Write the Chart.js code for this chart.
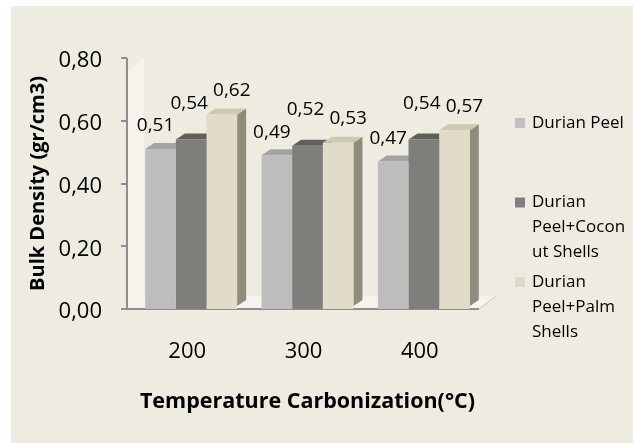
<!DOCTYPE html>
<html>
<head>
<meta charset="utf-8">
<script src="https://cdn.jsdelivr.net/npm/chart.js@4.4.1/dist/chart.umd.min.js"></script>
<style>
  html, body { margin: 0; padding: 0; background: #ffffff; }
  #wrap { position: relative; width: 633px; height: 443px; }
</style>
</head>
<body>
<div id="wrap"><canvas id="densityChart" width="633" height="443"></canvas></div>
<script>
// Data
const temperatures = ['200', '300', '400'];
const durianPeel = [0.51, 0.49, 0.47];
const peelCoconut = [0.54, 0.52, 0.54];
const peelPalm = [0.62, 0.53, 0.57];
const seriesNames = ['Durian Peel', 'Durian Peel+Coconut Shells', 'Durian Peel+Palm Shells'];
const legendLines = [['Durian Peel'], ['Durian', 'Peel+Cocon', 'ut Shells'], ['Durian', 'Peel+Palm', 'Shells']];
const yTicks = [0, 0.2, 0.4, 0.6, 0.8];

const FONT = "'Open Sans', 'Noto Sans', sans-serif";
const comma = v => v.toFixed(2).replace('.', ',');

// colours of the fake 3D faces, one entry per series
const faces = [
    { front: '#bdbdbd', top: '#a4a4a4', side: '#8f8f8f', legend: '#c0c0c0' },
    { front: '#7e7f7b', top: '#5f605c', side: '#54554f', legend: '#808080' },
    { front: '#e0dcc7', top: '#cdc9b2', side: '#8e8c7b', legend: '#dedac5' }
];
const depth = { dx: 9, dy: 6 };
const floorDepth = { dx: 17, dy: 13 };
// label offsets per series (Excel puts them a bit off-centre)
const labelShift = [{ dx: -5, dy: -23 }, { dx: -2, dy: -36 }, { dx: 10, dy: -24 }];

const backdrop = {
    id: 'backdrop',
    beforeDraw(chart) {
        const c = chart.ctx;
        c.save();
        c.fillStyle = '#ffffff';
        c.fillRect(0, 0, chart.width, chart.height);
        c.fillStyle = '#eeebe0';
        c.fillRect(11, 6, chart.width - 11, chart.height - 6);
        c.restore();
    }
};

const threeD = {
    id: 'threeD',
    beforeDatasetsDraw(chart) {
        const c = chart.ctx;
        const area = chart.chartArea;
        const yScale = chart.scales.y;
        const axisX = area.left - 6;
        const base = yScale.getPixelForValue(0);
        const top = yScale.getPixelForValue(0.8);
        c.save();

        // left wall
        c.fillStyle = 'rgba(255,255,255,0.4)';
        c.beginPath();
        c.moveTo(axisX, top + floorDepth.dy);
        c.lineTo(axisX + floorDepth.dx, top);
        c.lineTo(axisX + floorDepth.dx, base - floorDepth.dy);
        c.lineTo(axisX, base);
        c.closePath();
        c.fill();

        // floor
        c.fillStyle = '#f4f3ee';
        c.beginPath();
        c.moveTo(axisX, base);
        c.lineTo(area.right - 3, base);
        c.lineTo(area.right - 3 + floorDepth.dx, base - floorDepth.dy);
        c.lineTo(axisX + floorDepth.dx, base - floorDepth.dy);
        c.closePath();
        c.fill();
        c.strokeStyle = '#c9c8c0';
        c.lineWidth = 1;
        c.beginPath();
        c.moveTo(area.right - 3, base);
        c.lineTo(area.right - 3 + floorDepth.dx, base - floorDepth.dy);
        c.stroke();

        // y axis line and ticks
        c.strokeStyle = '#8e8e8e';
        c.lineWidth = 2;
        c.beginPath();
        c.moveTo(axisX, top);
        c.lineTo(axisX, base);
        c.lineTo(area.right - 3, base);
        yTicks.forEach(v => {
            const py = Math.round(yScale.getPixelForValue(v));
            c.moveTo(axisX - 6, py);
            c.lineTo(axisX, py);
        });
        c.stroke();

        // side and top faces, left to right
        const count = chart.data.labels.length;
        for (let i = 0; i < count; i++) {
            chart.data.datasets.forEach((ds, d) => {
                const bar = chart.getDatasetMeta(d).data[i];
                const p = bar.getProps(['x', 'y', 'base', 'width'], true);
                const l = p.x - p.width / 2, r = p.x + p.width / 2;
                c.fillStyle = faces[d].side;
                c.beginPath();
                c.moveTo(r, p.y);
                c.lineTo(r + depth.dx, p.y - depth.dy);
                c.lineTo(r + depth.dx, p.base - depth.dy - 3);
                c.lineTo(r, p.base - 3);
                c.closePath();
                c.fill();
                c.fillStyle = faces[d].top;
                c.beginPath();
                c.moveTo(l, p.y);
                c.lineTo(l + depth.dx, p.y - depth.dy);
                c.lineTo(r + depth.dx, p.y - depth.dy);
                c.lineTo(r, p.y);
                c.closePath();
                c.fill();
            });
        }
        c.restore();
    },
    afterDatasetsDraw(chart) {
        const c = chart.ctx;
        c.save();
        c.font = '19px ' + FONT;
        c.fillStyle = '#000000';
        c.textAlign = 'center';
        c.textBaseline = 'middle';
        chart.data.datasets.forEach((ds, d) => {
            chart.getDatasetMeta(d).data.forEach((bar, i) => {
                const p = bar.getProps(['x', 'y'], true);
                c.fillText(comma(ds.data[i]), p.x + labelShift[d].dx, p.y + labelShift[d].dy);
            });
        });
        c.restore();
    },
    afterDraw(chart) {
        // legend drawn by hand so lines wrap like the reference
        const c = chart.ctx;
        c.save();
        c.font = '17px ' + FONT;
        c.textBaseline = 'middle';
        c.textAlign = 'left';
        legendLines.forEach((lines, d) => {
            const y0 = 123 + d * 79.5;
            c.fillStyle = faces[d].legend;
            c.fillRect(515, y0 - 5, 10, 10);
            c.fillStyle = '#000000';
            lines.forEach((t, k) => c.fillText(t, 532, y0 + k * 25));
        });
        c.restore();
    }
};

const ctx = document.getElementById('densityChart').getContext('2d');
const densityChart = new Chart(ctx, {
    type: 'bar',
    data: {
        labels: temperatures,
        datasets: [
            { label: seriesNames[0], data: durianPeel, backgroundColor: faces[0].front },
            { label: seriesNames[1], data: peelCoconut, backgroundColor: faces[1].front },
            { label: seriesNames[2], data: peelPalm, backgroundColor: faces[2].front }
        ]
    },
    options: {
        responsive: false,
        animation: false,
        events: [],
        layout: { padding: { left: 0, top: 58, right: 151, bottom: 0 } },
        datasets: { bar: { barPercentage: 1, categoryPercentage: 0.79 } },
        plugins: { legend: { display: false }, tooltip: { enabled: false } },
        scales: {
            x: {
                grid: { display: false, drawTicks: false },
                border: { display: false },
                ticks: { color: '#000000', font: { family: FONT, size: 22 }, padding: 30, labelOffset: -4 },
                title: {
                    display: true,
                    text: 'Temperature Carbonization(°C)',
                    color: '#000000',
                    font: { family: FONT, size: 21.5, weight: 'bold' },
                    padding: { top: 0, bottom: 28 }
                },
                afterFit: s => { s.height = 134; }
            },
            y: {
                min: 0,
                max: 0.8,
                grid: { display: false, drawTicks: false },
                border: { display: false },
                afterBuildTicks: s => { s.ticks = yTicks.map(v => ({ value: v })); },
                ticks: {
                    color: '#000000',
                    font: { family: FONT, size: 22 },
                    padding: 31,
                    labelOffset: 3,
                    callback: v => comma(v)
                },
                title: {
                    display: true,
                    text: 'Bulk Density (gr/cm3)',
                    color: '#000000',
                    font: { family: FONT, size: 20, weight: 'bold' },
                    padding: { top: 26, bottom: 0 }
                },
                afterFit: s => { s.width = 133; }
            }
        }
    },
    plugins: [backdrop, threeD]
});
</script>
</body>
</html>
